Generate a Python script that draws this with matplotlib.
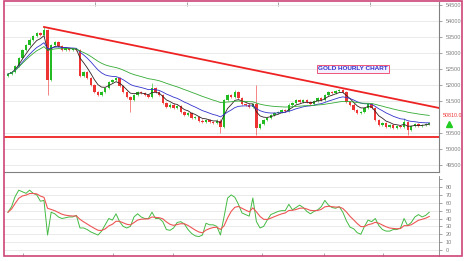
import numpy as np
import pandas as pd
import matplotlib
matplotlib.use("Agg")
from matplotlib import pyplot as plt
from matplotlib.patches import Rectangle

# hourly closes
closes = [52340, 52410, 52590, 52840, 53090, 53250, 53410, 53530, 53620, 53560,
          53720, 52160, 53250, 53340, 53220, 53090, 53160, 53090, 53120, 53090,
          52280, 52410, 52220, 52000, 51780, 51690, 51780, 51910, 52090, 52160,
          52220, 51970, 51780, 51620, 51530, 51690, 51780, 51750, 51690, 51620,
          51910, 51780, 51690, 51440, 51310, 51380, 51280, 51340, 51160, 51060,
          51120, 50970, 51000, 50880, 50840, 50910, 50840, 50810, 50880, 50690,
          51530, 51690, 51620, 51780, 51590, 51410, 51380, 51310, 51410, 50660,
          50780, 50910, 50970, 51060, 51120, 51160, 51220, 51190, 51380, 51440,
          51530, 51470, 51530, 51470, 51410, 51500, 51590, 51530, 51690, 51780,
          51750, 51810, 51840, 51780, 51470, 51380, 51220, 51120, 51160, 51280,
          51410, 51280, 50910, 50750, 50810, 50690, 50750, 50660, 50720, 50690,
          50840, 50590, 50720, 50780, 50720, 50750, 50780, 50810]
first_open = 52280
# bars with long shadows: index -> (high, low)
long_wicks = {10: (53810, None), 11: (None, 51690), 34: (None, 51160),
              40: (52060, None), 59: (None, 50500), 63: (51840, None),
              69: (52000, 50440), 110: (50970, None), 111: (None, 50440)}

# oscillator (lower panel)
osc = [48, 55, 68, 76, 74, 72, 76, 72, 70, 62, 63, 19, 48, 46, 42, 40, 41, 42,
       42, 44, 28, 28, 26, 23, 21, 19, 24, 32, 40, 38, 46, 36, 30, 28, 30, 42,
       46, 42, 40, 40, 48, 40, 40, 36, 26, 25, 28, 35, 36, 33, 26, 21, 18, 17,
       19, 34, 32, 32, 30, 19, 42, 66, 70, 67, 58, 47, 45, 43, 66, 36, 28, 30,
       38, 45, 47, 49, 50, 50, 58, 51, 54, 57, 54, 49, 46, 49, 51, 55, 63, 57,
       54, 53, 55, 48, 37, 29, 27, 22, 20, 30, 38, 36, 40, 31, 26, 24, 24, 26,
       26, 28, 40, 31, 35, 42, 45, 42, 44, 48]

trend_x = [10, 119.7]
trend_y = [53810, 51280]
support = 50380
last_price = "50810.0"

price_ticks = [54500, 54000, 53500, 53000, 52500, 52000, 51500, 50500, 50000, 49500]
osc_ticks = [0, 10, 20, 30, 40, 50, 60, 70, 80]
top_marks = [24.2, 49.7, 75, 100.6]
bottom_marks = [4.2, 29.2, 45.8, 70.6, 87.8, 104.2]

n = len(closes)
x = np.arange(n)
c = pd.Series(closes, dtype=float)
opens = np.r_[first_open, closes[:-1]]
ma_fast = c.ewm(span=5).mean()
ma_mid = c.ewm(span=14).mean()
ma_slow = c.ewm(span=40).mean()
osc_sig = pd.Series(osc, dtype=float).ewm(span=6).mean()

W, H = 468, 261
fig = plt.figure(figsize=(W / 100, H / 100), dpi=100)
plt.rcParams['font.family'] = ['Liberation Sans', 'DejaVu Sans']

def box(l, t, r, b):
    return [l / W, 1 - b / H, (r - l) / W, (b - t) / H]

ax = fig.add_axes(box(4, 2, 439, 172))
ax2 = fig.add_axes(box(4, 176, 439, 256))
frame = '#cc4477'
axis_grey = '#808080'

# candles
for i in range(n):
    o, cl = opens[i], closes[i]
    col = '#22bb22' if cl >= o else '#ee3333'
    hi, lo = max(o, cl) + 40, min(o, cl) - 40
    if i in long_wicks:
        h2, l2 = long_wicks[i]
        hi = h2 if h2 else hi
        lo = l2 if l2 else lo
    ax.vlines(i, lo, hi, color=col, lw=0.6, alpha=0.7, zorder=2)
    ax.bar(i, max(abs(cl - o), 15), bottom=min(o, cl), width=0.65,
           color=col, lw=0, zorder=3)

ax.plot(x, ma_fast, color='#332222', lw=0.6, zorder=4)
ax.plot(x, ma_mid, color='#3333cc', lw=0.6, zorder=4)
ax.plot(x, ma_slow, color='#33aa33', lw=0.6, zorder=4)
ax.plot(trend_x, trend_y, color='#ee2222', lw=1.3, zorder=5)
ax.axhline(support, color='#ee2222', lw=1.3, zorder=5)

ax.text(95.8, 52500, 'GOLD HOURLY CHART', color='#3333cc', fontsize=4.6,
        fontweight='bold', ha='center', va='center',
        bbox=dict(boxstyle='square,pad=0.25', fc='#f4f0ff', ec='#ee5577', lw=0.7))

ax.set_xlim(-1.1, 119.7)
ax.set_ylim(49280, 54590)
ax.yaxis.tick_right()
ax.set_yticks(price_ticks)
ax.set_yticklabels([str(t) for t in price_ticks])
ax.tick_params(axis='y', labelsize=4, colors=axis_grey, length=2, width=0.5, pad=3)
ax.set_xticks(top_marks)
ax.tick_params(axis='x', top=True, bottom=False, labeltop=False, labelbottom=False,
               direction='in', length=3, width=0.5, colors=axis_grey)
ax.grid(axis='y', color='#e6e6e6', lw=0.6)
ax.set_axisbelow(True)
ax.spines['left'].set_visible(False)
ax.spines['top'].set_visible(False)
for s in ('right', 'bottom'):
    ax.spines[s].set_color(axis_grey)
    ax.spines[s].set_linewidth(0.8)
ax.text(120.8, 51030, last_price, color='#ee3333', fontsize=3.8, va='center',
        ha='left', clip_on=False)
ax.plot([122.5], [50780], marker='^', color='#22cc22', ms=5, clip_on=False)

# oscillator panel
ax2.plot(x, osc, color='#44bb44', lw=0.7)
ax2.plot(x, osc_sig, color='#ee5555', lw=0.8)
ax2.set_xlim(-1.1, 119.7)
ax2.set_ylim(-7.6, 94)
ax2.yaxis.tick_right()
ax2.set_yticks(osc_ticks)
ax2.set_yticks([90], minor=True)
ax2.tick_params(axis='y', which='both', labelsize=4, colors=axis_grey, length=2,
                width=0.5, pad=3)
ax2.set_xticks(bottom_marks)
ax2.tick_params(axis='x', labelbottom=False, direction='in', length=2, width=0.5,
                colors=axis_grey)
ax2.grid(axis='y', color='#e6e6e6', lw=0.6)
ax2.set_axisbelow(True)
for s in ('left', 'top', 'bottom'):
    ax2.spines[s].set_visible(False)
ax2.spines['right'].set_color(axis_grey)
ax2.spines['right'].set_linewidth(0.6)

# outer frame
fig.patches.append(Rectangle((4 / W, 1 - 256 / H), 458 / W, 255 / H,
                             transform=fig.transFigure, fill=False, ec=frame, lw=1.2))

fig.savefig('out.png', dpi=100)
